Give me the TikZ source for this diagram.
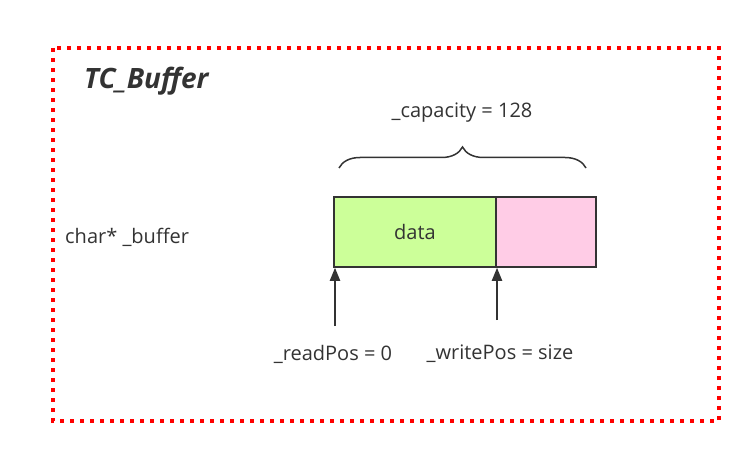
\documentclass[tikz,border=0pt]{standalone}
\usepackage{fontspec}
\setmainfont{Open Sans}
\usetikzlibrary{arrows.meta,decorations.pathreplacing}
\definecolor{txt}{HTML}{333333}
\definecolor{datagreen}{HTML}{CCFF99}
\definecolor{freepink}{HTML}{FFCCE6}
\tikzset{
  cell/.style={draw=txt,line width=1.5pt,minimum height=70pt,inner sep=0pt,text=txt,font=\fontsize{20}{24}\selectfont},
  lbl/.style={text=txt,font=\fontsize{20}{24}\selectfont,inner sep=0pt},
  ptr/.style={draw=txt,line width=2pt,-{Triangle[length=13pt,width=10pt]}},
  frame/.style={draw=red,line width=4pt,dash pattern=on 4pt off 6pt}
}
\begin{document}
\begin{tikzpicture}[x=1pt,y=-1pt]
\useasboundingbox (0,0) rectangle (751,454);
\draw[frame] (53,48) rectangle (719,421);
\node[lbl,font=\fontsize{28}{31}\selectfont\bfseries\itshape,anchor=west] (title) at (84,81) {TC\_Buffer};
\node[lbl,anchor=west] (buf) at (65,237) {char* \_buffer};
\node[cell,fill=datagreen,minimum width=162pt] (data) at (415,232) {data};
\node[cell,fill=freepink,minimum width=100pt] (free) at (546,232) {};
\node[lbl] (cap) at (462,113) {\_capacity = 128};
\coordinate (bl) at (339,168);
\coordinate (br) at (586,168);
\draw[txt,line width=1.5pt,decorate,decoration={brace,amplitude=21pt}] (bl) -- (br);
\node[lbl] (rp) at (333,354) {\_readPos = 0};
\node[lbl] (wp) at (500,354) {\_writePos = size};
\coordinate (r0) at (335,326);
\coordinate (w0) at (497,320);
\draw[ptr] (r0) -- (r0 |- data.south);
\draw[ptr] (w0) -- (w0 |- data.south);
\end{tikzpicture}
\end{document}
